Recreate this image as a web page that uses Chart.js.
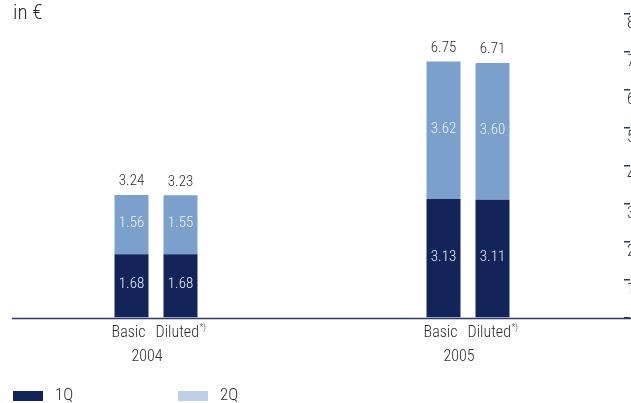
<!DOCTYPE html>
<html>
<head>
<meta charset="utf-8">
<script src="https://cdn.jsdelivr.net/npm/chart.js@4/dist/chart.umd.min.js"></script>
<style>
  html, body { margin: 0; padding: 0; background: #fff; overflow: hidden; }
  #wrap { width: 631px; height: 403px; overflow: hidden; }
</style>
</head>
<body>
<div id="wrap"><canvas id="eps-chart" width="650" height="403"></canvas></div>
<script>
// earnings per share, in euro
const years = ['2004', '2005'];
const kinds = ['Basic', 'Diluted'];
const basic_1q = [1.68, 3.13];
const basic_2q = [1.56, 3.62];
const diluted_1q = [1.68, 3.11];
const diluted_2q = [1.55, 3.60];
const basic_total = [3.24, 6.75];
const diluted_total = [3.23, 6.71];
const y_ticks = [0, 1, 2, 3, 4, 5, 6, 7, 8];

const NAVY = '#13245a';
const LIGHT = '#7aa0cb';
const LEGEND_LIGHT = '#bccfe6';
const TEXT = '#2e2e2e';
const FONT = "'Roboto Condensed', 'Roboto', sans-serif";

const totals = [basic_total, diluted_total];

const labelPlugin = {
    id: 'labels',
    afterDatasetsDraw(chart) {
        const ctx = chart.ctx;
        const y0 = chart.scales.y.getPixelForValue(0);
        ctx.save();

        // baseline
        ctx.strokeStyle = '#2c3d6b';
        ctx.lineWidth = 1.4;
        ctx.beginPath();
        ctx.moveTo(12, y0 + 0.5);
        ctx.lineTo(chart.width, y0 + 0.5);
        ctx.stroke();

        // values inside segments
        ctx.textAlign = 'center';
        ctx.textBaseline = 'middle';
        ctx.font = '300 15px ' + FONT;
        ctx.fillStyle = '#eef2f8';
        chart.data.datasets.forEach((ds, di) => {
            chart.getDatasetMeta(di).data.forEach((bar, i) => {
                ctx.fillText(ds.data[i].toFixed(2), bar.x, (bar.y + bar.base) / 2 - 1);
            });
        });

        // totals on top
        ctx.fillStyle = TEXT;
        ctx.textBaseline = 'bottom';
        [2, 3].forEach((di, k) => {
            chart.getDatasetMeta(di).data.forEach((bar, i) => {
                ctx.fillText(totals[k][i].toFixed(2), bar.x, bar.y - 6);
            });
        });

        // Basic / Diluted under the bars
        ctx.textBaseline = 'middle';
        [0, 1].forEach((di, k) => {
            chart.getDatasetMeta(di).data.forEach((bar) => {
                ctx.font = '300 16px ' + FONT;
                if (k === 0) {
                    ctx.textAlign = 'center';
                    ctx.fillText(kinds[0], bar.x - 3, y0 + 15);
                } else {
                    const w1 = ctx.measureText(kinds[1]).width;
                    ctx.font = '300 9px ' + FONT;
                    const w2 = ctx.measureText('*)').width;
                    const left = bar.x - (w1 + w2) / 2;
                    ctx.textAlign = 'left';
                    ctx.font = '300 16px ' + FONT;
                    ctx.fillText(kinds[1], left, y0 + 15);
                    ctx.font = '300 9px ' + FONT;
                    ctx.fillText('*)', left + w1 + 0.5, y0 + 10);
                }
            });
        });

        // unit
        ctx.textAlign = 'left';
        ctx.textBaseline = 'alphabetic';
        ctx.font = '300 21px ' + FONT;
        ctx.fillText('in €', 13, 19);

        // legend
        const items = [['1Q', NAVY, 13], ['2Q', LEGEND_LIGHT, 178]];
        items.forEach(it => {
            ctx.fillStyle = it[1];
            ctx.fillRect(it[2], 391, 30, 10);
            ctx.fillStyle = TEXT;
            ctx.font = '300 17px ' + FONT;
            ctx.fillText(it[0], it[2] + 42, 400);
        });
        ctx.restore();
    }
};

new Chart(document.getElementById('eps-chart'), {
    type: 'bar',
    data: {
        labels: years,
        datasets: [
            { label: '1Q', data: basic_1q, backgroundColor: NAVY, stack: 'basic' },
            { label: '1Q', data: diluted_1q, backgroundColor: NAVY, stack: 'diluted' },
            { label: '2Q', data: basic_2q, backgroundColor: LIGHT, stack: 'basic' },
            { label: '2Q', data: diluted_2q, backgroundColor: LIGHT, stack: 'diluted' }
        ]
    },
    options: {
        responsive: false,
        animation: false,
        categoryPercentage: 0.314,
        barPercentage: 0.694,
        layout: { padding: { top: 14, left: 0, right: 0, bottom: 0 } },
        plugins: {
            legend: { display: false },
            tooltip: { enabled: false },
            title: { display: false }
        },
        scales: {
            x: {
                stacked: true,
                grid: { display: false, drawTicks: false },
                border: { display: false },
                ticks: {
                    padding: 29,
                    labelOffset: -9,
                    color: TEXT,
                    font: { family: FONT, size: 16, weight: 300 }
                },
                afterFit(scale) { scale.height = 85; }
            },
            y: {
                stacked: true,
                position: 'right',
                min: 0,
                max: 8,
                afterBuildTicks(scale) { scale.ticks = y_ticks.map(v => ({ value: v })); },
                grid: { drawOnChartArea: false, drawTicks: true, tickLength: 6, color: '#2c3d6b', lineWidth: 1.5 },
                border: { display: false },
                ticks: {
                    padding: -3,
                    labelOffset: 10,
                    color: TEXT,
                    font: { family: FONT, size: 16, weight: 300 },
                    callback: v => (v === 0 ? '' : v)
                },
                afterFit(scale) { scale.width = 26; }
            }
        }
    },
    plugins: [labelPlugin]
});
</script>
</body>
</html>
